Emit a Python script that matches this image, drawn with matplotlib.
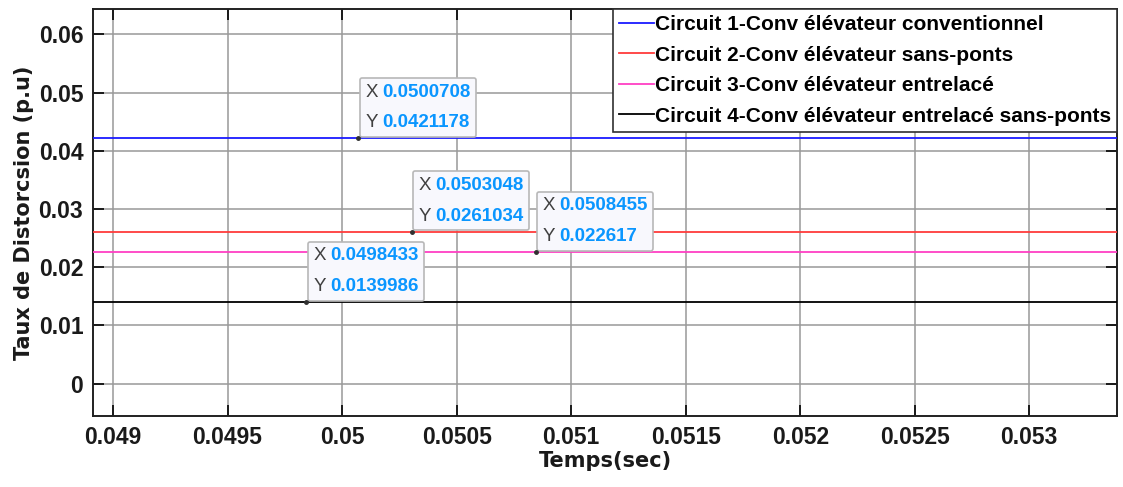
import matplotlib
matplotlib.use("Agg")
import matplotlib.pyplot as plt
from matplotlib.offsetbox import TextArea, HPacker, VPacker, AnnotationBbox

# Time window shown (s)
x_start, x_end = 0.0489127, 0.053383

series_labels = [
    "Circuit 1-Conv élévateur conventionnel",
    "Circuit 2-Conv élévateur sans-ponts",
    "Circuit 3-Conv élévateur entrelacé",
    "Circuit 4-Conv élévateur entrelacé sans-ponts",
]
series_values = [0.0421178, 0.0261034, 0.022617, 0.0139986]
series_colors = ["#1a1aff", "#ff3c3c", "#ff3fc4", "#000000"]

# Data cursor positions (time, value) per series
tip_x = [0.0500708, 0.0503048, 0.0508455, 0.0498433]
tip_y = series_values

xticks = [0.049, 0.0495, 0.05, 0.0505, 0.051, 0.0515, 0.052, 0.0525, 0.053]
xtick_labels = ["0.049", "0.0495", "0.05", "0.0505", "0.051", "0.0515",
                "0.052", "0.0525", "0.053"]
yticks = [0, 0.01, 0.02, 0.03, 0.04, 0.05, 0.06]
ytick_labels = ["0", "0.01", "0.02", "0.03", "0.04", "0.05", "0.06"]

plt.rcParams["font.family"] = ["Liberation Sans", "DejaVu Sans"]

fig = plt.figure(figsize=(11.23, 4.87), dpi=100)
ax = fig.add_axes([0.0828, 0.1458, 0.9119, 0.8357])

for val, col, lab in zip(series_values, series_colors, series_labels):
    ax.plot([x_start, x_end], [val, val], color=col, lw=1.3, label=lab, zorder=3)

ax.set_xlim(x_start, x_end)
ax.set_ylim(-0.00558, 0.06435)
ax.set_xticks(xticks)
ax.set_xticklabels(xtick_labels)
ax.set_yticks(yticks)
ax.set_yticklabels(ytick_labels)
ax.tick_params(direction="in", length=8, width=1.2, top=True, right=True,
               labelsize=16.5, pad=7)
for lbl in ax.get_xticklabels() + ax.get_yticklabels():
    lbl.set_fontweight("bold")
    lbl.set_color("#1a1a1a")
ax.grid(True, color="#9a9a9a", lw=1.4, alpha=0.8)
for sp in ax.spines.values():
    sp.set_linewidth(1.4)
    sp.set_color("#202020")

ax.set_xlabel("Temps(sec)", fontsize=15, fontweight="bold", labelpad=2,
              family="DejaVu Sans", color="#1a1a1a")
ax.set_ylabel("Taux de Distorcsion (p.u)", fontsize=15, fontweight="bold",
              labelpad=3, family="DejaVu Sans", color="#1a1a1a")

leg = ax.legend(loc="upper right", borderaxespad=0,
                prop={"weight": "bold", "size": 15}, handlelength=1.65,
                handletextpad=0.05, labelspacing=0.55, borderpad=0.3,
                fancybox=False, framealpha=1)
leg.get_frame().set_edgecolor("#303030")
leg.get_frame().set_linewidth(1.2)
leg.set_zorder(10)

# Data cursor boxes
for i, (tx, ty) in enumerate(zip(tip_x, tip_y)):
    rows = []
    for axis_name, v in (("X", tx), ("Y", ty)):
        rows.append(HPacker(children=[
            TextArea(axis_name, textprops=dict(color="#404040", fontsize=13.5)),
            TextArea(f"{v:g}", textprops=dict(color="#0a96ff", fontsize=13.5,
                                              fontweight="bold")),
        ], align="baseline", pad=0, sep=3))
    box = VPacker(children=rows, align="left", pad=0, sep=10)
    ab = AnnotationBbox(box, (tx, ty), xybox=(5, 5), boxcoords="offset points",
                        box_alignment=(0, 0), frameon=True, pad=0.4,
                        bboxprops=dict(boxstyle="round,pad=0.4,rounding_size=0.15",
                                       fc="#f8f8fd", ec="#b8b8b8", lw=1.2),
                        zorder=5 + i)
    ax.add_artist(ab)
    ax.plot([tx], [ty], "o", ms=2.5, color="#303030", zorder=6 + i)

fig.savefig("out.png", dpi=100)
